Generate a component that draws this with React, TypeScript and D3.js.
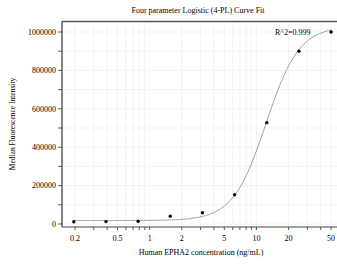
import React from "react";
import { scaleLog, scaleLinear, line, range } from "d3";

const concentrations = [0.195, 0.39, 0.78, 1.56, 3.125, 6.25, 12.5, 25, 50];
const mfiValues = [12000, 12500, 14000, 41000, 59000, 152000, 528000, 900000, 1000000];

// fitted 4PL parameters (bottom, top, EC50, hill slope)
const fitBottom = 18000;
const fitTop = 1030000;
const fitEC50 = 12.3;
const fitHill = 2.8;

const xTickLabels = [0.2, 0.5, 1, 2, 5, 10, 20, 50];
const xMinorTicks = [0.2, 0.3, 0.4, 0.5, 0.6, 0.7, 0.8, 0.9, 1, 2, 3, 4, 5, 6, 7, 8, 9, 10, 20, 30, 40, 50];
const yTickLabels = [0, 200000, 400000, 600000, 800000, 1000000];
const yMinorTicks = [0, 100000, 200000, 300000, 400000, 500000, 600000, 700000, 800000, 900000, 1000000];

const W = 337;
const H = 266;
const left = 62;
const right = 337;
const top = 21.5;
const bottom = 227;
const font = "'Liberation Serif', 'Times New Roman', serif";

const fourPL = (x: number) => fitTop + (fitBottom - fitTop) / (1 + Math.pow(x / fitEC50, fitHill));

export default function App() {
  const x = scaleLog().domain([0.1511, 56.8]).range([left, right]);
  const y = scaleLinear().domain([-15600, 1054700]).range([bottom, top]);

  const lo = Math.log10(concentrations[0]);
  const hi = Math.log10(concentrations[concentrations.length - 1]);
  const curveX = range(0, 201).map((i) => Math.pow(10, lo + ((hi - lo) * i) / 200));
  const path = line<number>()
    .x((d) => x(d))
    .y((d) => y(fourPL(d)))(curveX);

  return (
    <svg width={W} height={H} style={{ position: "absolute", left: 0, top: 0 }} fontFamily={font}>
      <rect width={W} height={H} fill="#fff" />
      <text x={198} y={13} textAnchor="middle" fontSize={8} fill="#000">
        Four parameter Logistic (4-PL) Curve Fit
      </text>
      {xMinorTicks.map((v, i) => (
        <line key={"gx" + i} x1={x(v)} x2={x(v)} y1={top} y2={bottom} stroke="#ebebeb" strokeWidth={0.6} />
      ))}
      {yMinorTicks.map((v, i) => (
        <line key={"gy" + i} x1={left} x2={right} y1={y(v)} y2={y(v)} stroke="#ebebeb" strokeWidth={0.6} />
      ))}
      <path d={path ?? ""} fill="none" stroke="#8a8a8a" strokeWidth={0.8} />
      {concentrations.map((c, i) => (
        <circle key={i} cx={x(c)} cy={y(mfiValues[i])} r={1.7} fill="#000" />
      ))}
      <line x1={left} x2={right} y1={top} y2={top} stroke="#555" strokeWidth={1.3} />
      <line x1={left} x2={left} y1={top} y2={bottom} stroke="#333" strokeWidth={1.2} />
      <line x1={left} x2={right} y1={bottom} y2={bottom} stroke="#444" strokeWidth={1} />
      {yMinorTicks.map((v, i) => (
        <line key={"ty" + i} x1={left - 4} x2={left} y1={y(v)} y2={y(v)} stroke="#333" strokeWidth={0.8} />
      ))}
      {yTickLabels.map((v, i) => (
        <text key={"ly" + i} x={left - 6} y={y(v)} dy="0.35em" textAnchor="end" fontSize={8} fill="#000">
          {v}
        </text>
      ))}
      {xMinorTicks.map((v, i) => (
        <line key={"tx" + i} x1={x(v)} x2={x(v)} y1={bottom} y2={bottom + 3} stroke="#333" strokeWidth={0.8} />
      ))}
      {xTickLabels.map((v, i) => (
        <text key={"lx" + i} x={x(v)} y={238.5} dy="0.35em" textAnchor="middle" fontSize={8} fill="#000">
          {v}
        </text>
      ))}
      <text x={201} y={252} dy="0.35em" textAnchor="middle" fontSize={8} fill="#000">
        Human EPHA2 concentration (ng/mL)
      </text>
      <text transform={`translate(12.5,124) rotate(-90)`} dy="0.35em" textAnchor="middle" fontSize={7.5} fill="#000">
        Median Fluorescence Intensity
      </text>
      <text x={275} y={32} dy="0.35em" fontSize={8} fill="#000">
        R^2=0.999
      </text>
    </svg>
  );
}
